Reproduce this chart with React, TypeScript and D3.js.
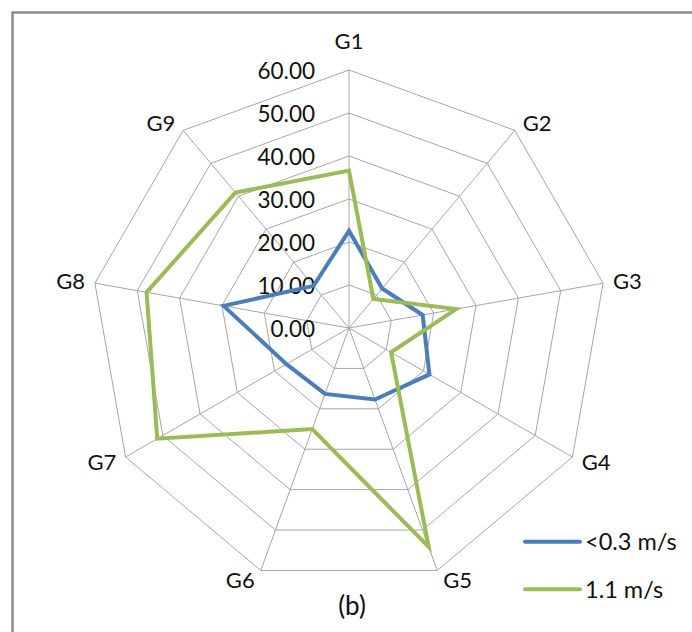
import React from "react";
import * as d3 from "d3";

const categories = ["G1", "G2", "G3", "G4", "G5", "G6", "G7", "G8", "G9"];
const seriesSlow = [22.6, 12.0, 17.4, 21.6, 17.7, 16.3, 16.8, 29.6, 12.8];
const seriesFast = [36.6, 8.8, 25.3, 11.3, 54.2, 25.0, 51.5, 47.8, 41.1];
const tickValues = [0, 10, 20, 30, 40, 50, 60];
const seriesNames = ["<0.3 m/s", "1.1 m/s"];
const seriesColors = ["#4a7ebb", "#9bbb59"];

const W = 692;
const H = 632;
const cx = 349;
const cy = 328;
const R = 258;
const FONT = "Lato, 'Open Sans', sans-serif";
const INK = "#111";

export default function App() {
  const r = d3.scaleLinear().domain([0, 60]).range([0, R]);
  const angle = d3
    .scaleLinear()
    .domain([0, categories.length])
    .range([0, 2 * Math.PI]);
  const pt = (i: number, v: number): [number, number] => {
    const a = angle(i);
    return [cx + Math.sin(a) * r(v), cy - Math.cos(a) * r(v)];
  };
  const line = d3
    .line<number>()
    .x((v, i) => pt(i, v)[0])
    .y((v, i) => pt(i, v)[1])
    .curve(d3.curveLinearClosed);
  const ring = (v: number) =>
    categories.map((_, i) => pt(i, v).join(",")).join(" ");

  return (
    <svg
      width={W}
      height={H}
      style={{ position: "absolute", left: 0, top: 0, background: "#fff" }}
    >
      <rect x={0} y={0} width={W} height={H} fill="#fff" />
      <rect
        x={12.5}
        y={12.5}
        width={W + 20}
        height={H + 20}
        fill="none"
        stroke="#8c8c8c"
        strokeWidth={2.5}
      />
      {tickValues.slice(1).map((t) => (
        <polygon
          key={t}
          points={ring(t)}
          fill="none"
          stroke="#a6a6a6"
          strokeWidth={1}
        />
      ))}
      {categories.map((c, i) => {
        const [x, y] = pt(i, 60);
        return (
          <line
            key={c}
            x1={cx}
            y1={cy}
            x2={x}
            y2={y}
            stroke="#a6a6a6"
            strokeWidth={1}
          />
        );
      })}
      {tickValues.map((t) => (
        <text
          key={t}
          x={315}
          y={cy - r(t) + 9}
          textAnchor="end"
          fontFamily={FONT}
          fontSize={22.5}
          fill={INK}
        >
          {t.toFixed(2)}
        </text>
      ))}
      {[seriesSlow, seriesFast].map((s, k) => (
        <path
          key={k}
          d={line(s) || ""}
          fill="none"
          stroke={seriesColors[k]}
          strokeWidth={4}
          strokeLinejoin="miter"
          strokeMiterlimit={10}
        />
      ))}
      {categories.map((c, i) => {
        const a = angle(i);
        const s = Math.sin(a);
        const co = Math.cos(a);
        const [vx, vy] = pt(i, 60);
        let anchor = "middle";
        let x = vx;
        if (s > 0.1) {
          anchor = "start";
          x = vx + 4 + 6 * Math.abs(s);
        } else if (s < -0.1) {
          anchor = "end";
          x = vx - 4 - 6 * Math.abs(s);
        }
        let yc = vy - 10 * co;
        if (Math.abs(s) < 0.1) yc = vy - 29;
        return (
          <text
            key={c}
            x={x}
            y={yc + 7.8}
            textAnchor={anchor}
            fontFamily={FONT}
            fontSize={22}
            fill={INK}
          >
            {c}
          </text>
        );
      })}
      {seriesNames.map((n, k) => (
        <g key={n}>
          <line
            x1={525}
            x2={580}
            y1={541.7 + k * 47.5}
            y2={541.7 + k * 47.5}
            stroke={seriesColors[k]}
            strokeWidth={4}
            strokeLinecap="round"
          />
          <text
            x={585}
            y={542 + k * 47.5 + 8}
            fontFamily={FONT}
            fontSize={23.5}
            fill={INK}
          >
            {n}
          </text>
        </g>
      ))}
      <text
        x={352}
        y={615}
        textAnchor="middle"
        fontFamily={FONT}
        fontSize={26}
        fill={INK}
      >
        (b)
      </text>
    </svg>
  );
}
